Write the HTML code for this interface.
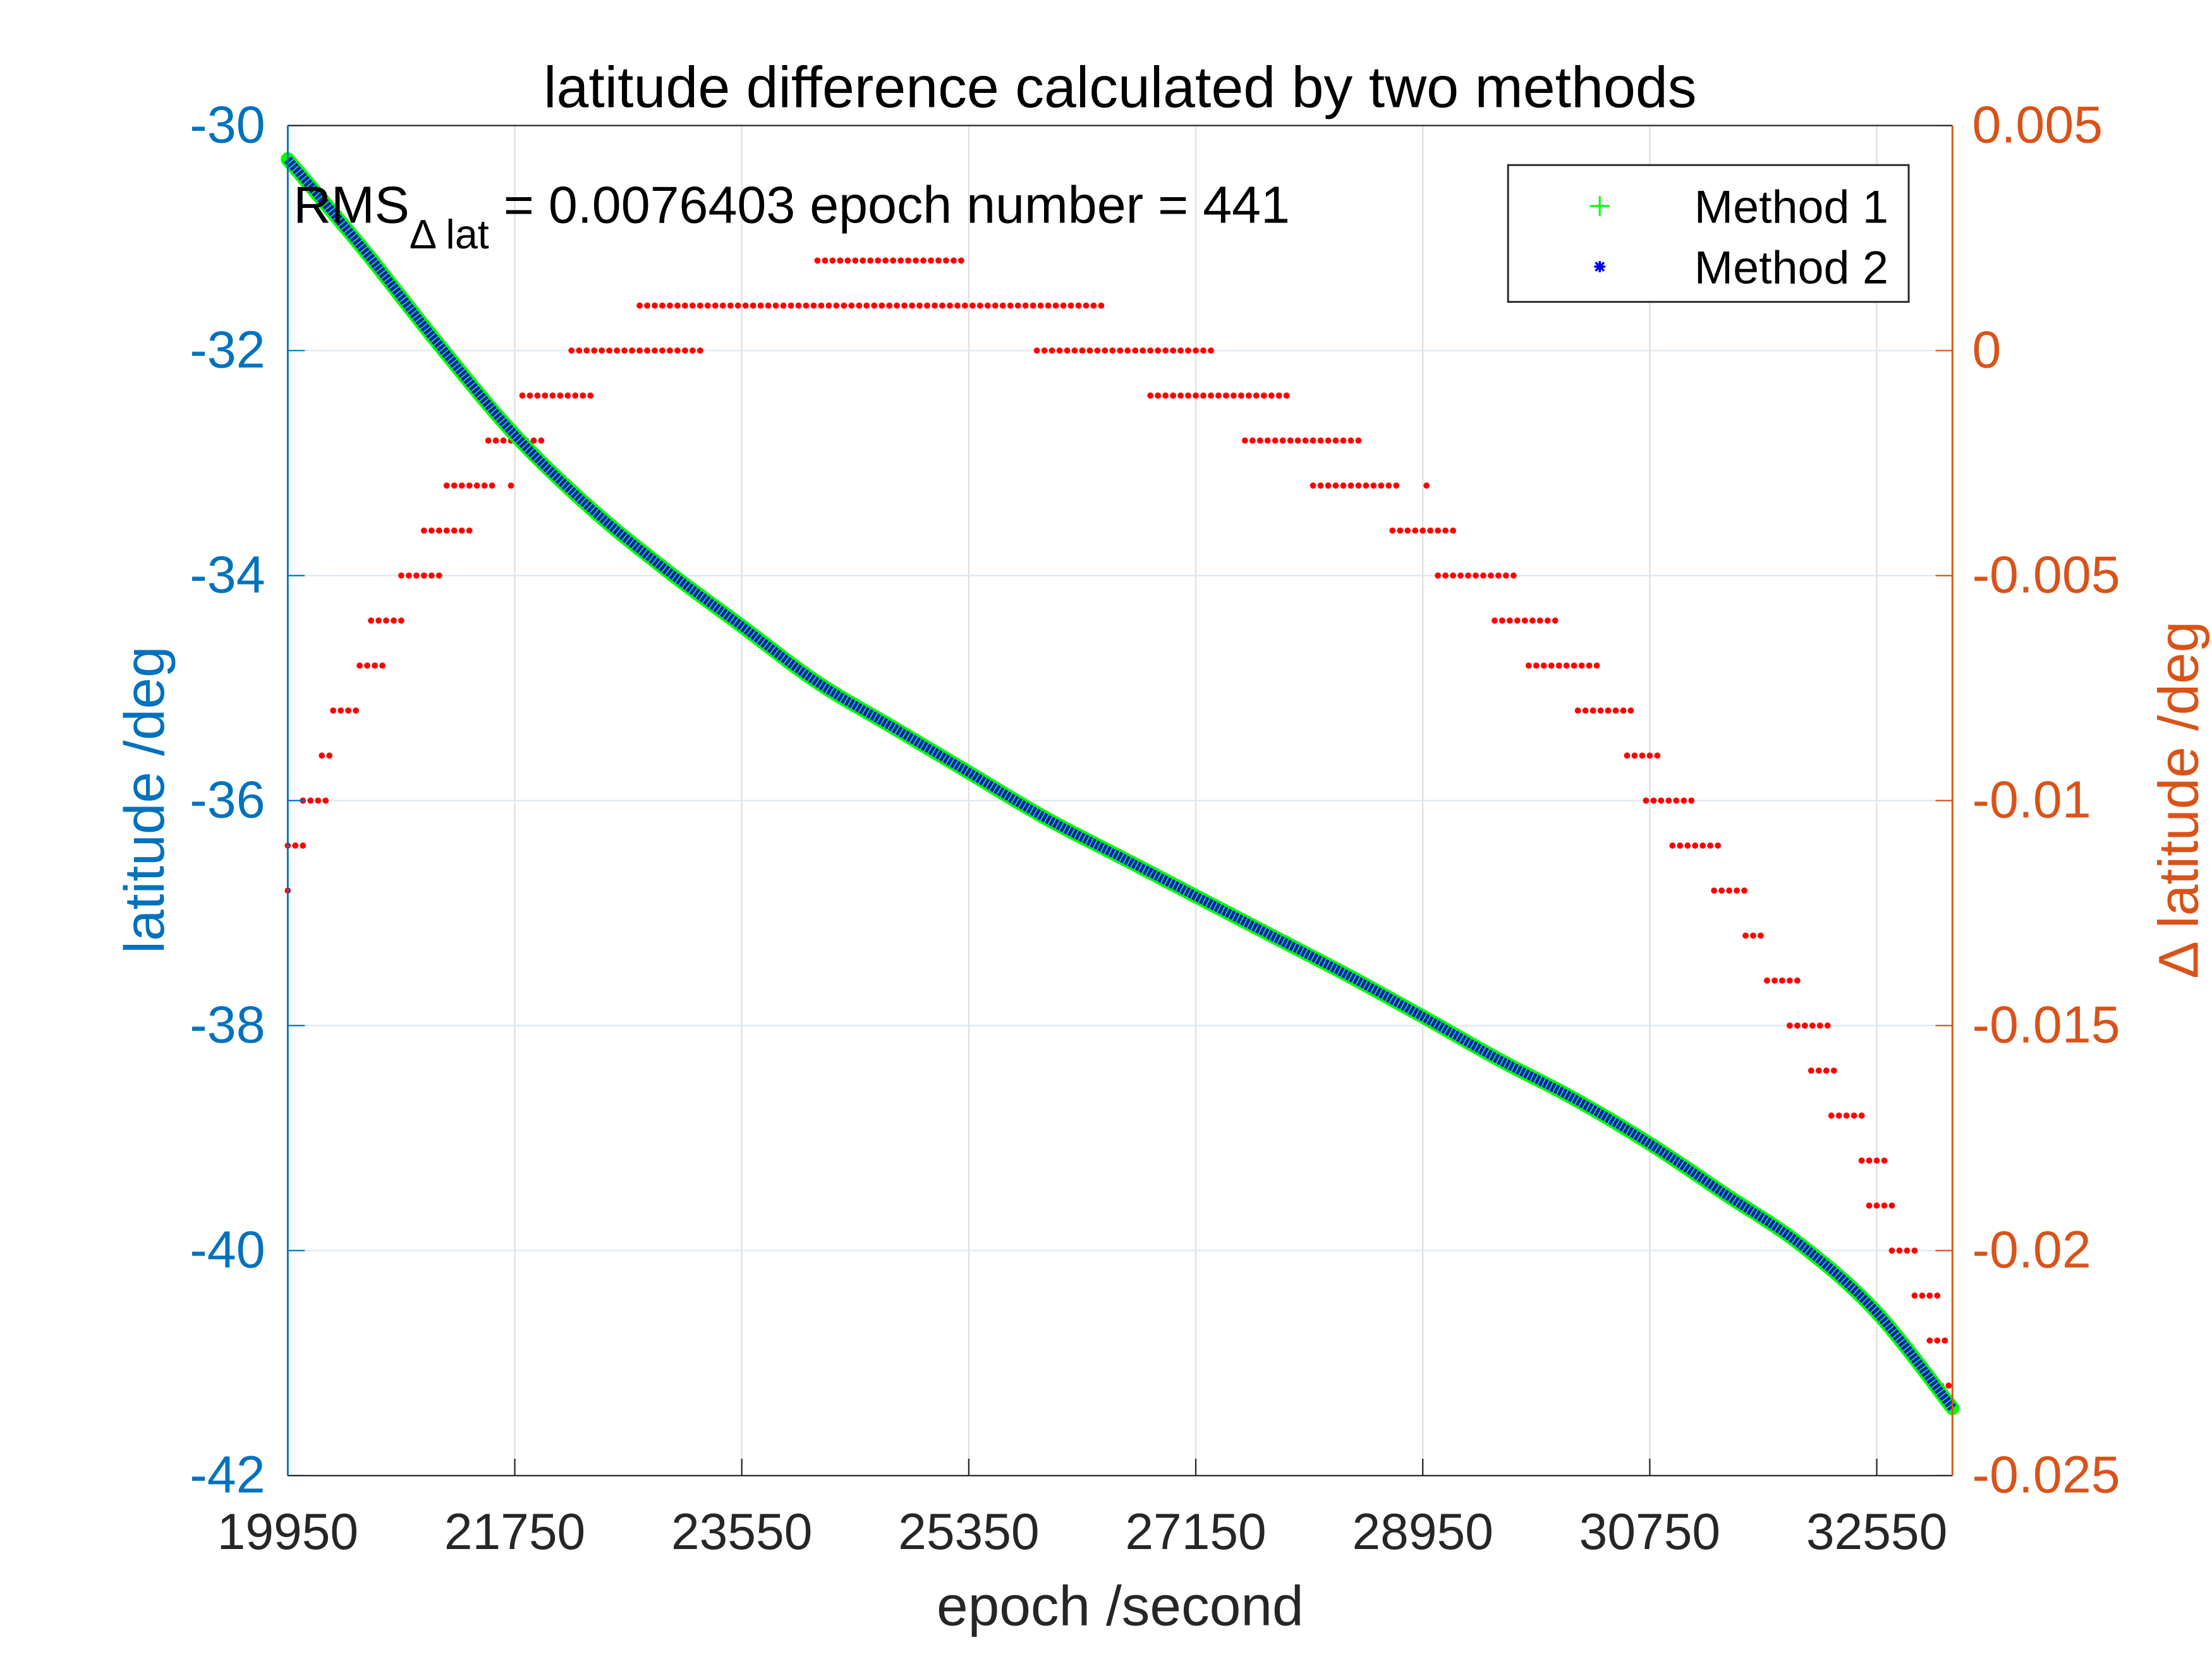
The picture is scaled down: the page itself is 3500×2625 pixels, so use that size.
<!DOCTYPE html>
<html><head><meta charset="utf-8"><style>
html,body{margin:0;padding:0;background:#fff;}
svg{display:block;}
text{font-family:"Liberation Sans",Arial,sans-serif;}
</style></head><body>
<svg id="chart" width="3500" height="2625" viewBox="0 0 1568 1176" xmlns="http://www.w3.org/2000/svg">
<rect width="1568" height="1176" fill="#fff"/>
<g id="grid"></g>
<g id="series"></g>
<g id="axes"></g>
<text x="794" y="76" font-size="41" text-anchor="middle">latitude difference calculated by two methods</text>
<text x="794" y="1152" font-size="40" text-anchor="middle" fill="#262626">epoch /second</text>
<text transform="translate(116,567) rotate(-90)" font-size="40" text-anchor="middle" fill="#0072BD">latitude /deg</text>
<text transform="translate(1558,567) rotate(-90)" font-size="40" text-anchor="middle" fill="#D95319">Δ latitude /deg</text>
<text x="208" y="158" font-size="37">RMS<tspan font-size="29" dy="18">Δ lat</tspan><tspan dy="-18"> = 0.0076403 epoch number = 441</tspan></text>
<g>
<rect x="1069" y="117" width="284" height="97" fill="#fff" stroke="#262626" stroke-width="1.3"/>
<g>
<path d="M1127 146h14M1134 139v14" stroke="#00ff00" stroke-width="1.4"/>
<text x="1201" y="158" font-size="33">Method 1</text></g>
<g>
<path d="M1130 189h8M1134 185v8M1131 186l6 6M1137 186l-6 6" stroke="#0000ff" stroke-width="1.6"/>
<text x="1201" y="201" font-size="33">Method 2</text></g>
</g>
</svg>
<script>
const xTicks=[19950,21750,23550,25350,27150,28950,30750,32550];
const yLeftTicks=[-30,-32,-34,-36,-38,-40,-42];
const yRightTicks=[0.005,0,-0.005,-0.01,-0.015,-0.02,-0.025];
const yRightLabels=["0.005","0","-0.005","-0.01","-0.015","-0.02","-0.025"];
const latEpochs=[19950,20550,21150,21750,22350,22950,23550,24150,24750,25350,25950,26550,27150,27750,28350,28950,29550,30150,30750,31350,31950,32550,33150];
const latValues=[-30.3,-31.1,-31.95,-32.75,-33.4,-33.95,-34.45,-34.95,-35.35,-35.75,-36.15,-36.5,-36.85,-37.2,-37.55,-37.92,-38.3,-38.65,-39.05,-39.5,-39.95,-40.55,-41.4];
const diffLevels=[-0.012,-0.011,-0.010,-0.009,-0.008,-0.007,-0.006,-0.005,-0.004,-0.003,-0.003,-0.002,-0.001,0,0.001,0.002,0,-0.001,-0.002,-0.003,-0.003,-0.004,-0.005,-0.006,-0.007,-0.008,-0.009,-0.010,-0.011,-0.012,-0.013,-0.014,-0.015,-0.016,-0.017,-0.018,-0.019,-0.020,-0.021,-0.022,-0.023];
const diffStarts=[19950,19950,20070,20220,20310,20520,20610,20850,21030,21210,21720,21540,21810,22200,22740,24150,25890,26790,27540,28080,28980,28710,29070,29520,29790,30180,30570,30720,30930,31260,31510,31680,31860,32030,32190,32430,32490,32670,32850,32970,33060];
const diffEnds=[19950,20070,20250,20330,20520,20700,20880,21180,21390,21570,21750,21960,22350,23250,26400,25290,27270,27870,28470,28740,28980,29220,29670,30000,30330,30600,30810,31080,31320,31530,31680,31950,32160,32220,32460,32610,32700,32880,33030,33090,33150];

(function(){
const L=204,R=1384,T=89,B=1046,X0=19950,X1=33150;
const sx=v=>L+(v-X0)/(X1-X0)*(R-L);
const syL=v=>T+(-30-v)/12*(B-T);
const syR=v=>T+(0.005-v)/0.03*(B-T);
const NS="http://www.w3.org/2000/svg";
function mk(tag,attrs,parent){const e=document.createElementNS(NS,tag);for(const k in attrs)e.setAttribute(k,attrs[k]);parent.appendChild(e);return e;}
const grid=document.getElementById('grid'),axes=document.getElementById('axes'),series=document.getElementById('series');

xTicks.forEach(t=>{const x=sx(t);
 if(t!==X0){const g=mk('line',{x1:x,x2:x,y1:T,y2:B,stroke:'#dfdfdf','stroke-width':1},grid);
 
 }
 const tk=mk('line',{x1:x,x2:x,y1:B,y2:B-12,stroke:'#262626','stroke-width':1},axes);
 
 
 const tx=mk('text',{x:x,y:B+52,'font-size':36,'text-anchor':'middle',fill:'#262626'},axes);
 tx.textContent=t;
 
 
});
yLeftTicks.forEach(t=>{const y=syL(t);
 if(t!==-30&&t!==-42){const g=mk('line',{x1:L,x2:R,y1:y,y2:y,stroke:'#dfe8ef','stroke-width':1},grid);
 
 }
 const tk=mk('line',{x1:L,x2:L+12,y1:y,y2:y,stroke:'#0072BD','stroke-width':1},axes);
 
 
 const tx=mk('text',{x:L-16,y:y+12,'font-size':37,'text-anchor':'end',fill:'#0072BD'},axes);
 tx.textContent=t;
 
 
});
yRightTicks.forEach((t,i)=>{const y=syR(t);
 const tk=mk('line',{x1:R,x2:R-12,y1:y,y2:y,stroke:'#D95319','stroke-width':1},axes);
 
 
 const tx=mk('text',{x:R+14,y:y+12,'font-size':37,fill:'#D95319'},axes);
 tx.textContent=yRightLabels[i];
 
 
});
const topLine=mk('line',{x1:L,x2:R,y1:T,y2:T,stroke:'#262626','stroke-width':1},axes);


const botLine=mk('line',{x1:L,x2:R,y1:B,y2:B,stroke:'#262626','stroke-width':1},axes);


const la=mk('line',{x1:L,x2:L,y1:T,y2:B,stroke:'#0072BD','stroke-width':1.3},axes);


const ra=mk('line',{x1:R,x2:R,y1:T,y2:B,stroke:'#D95319','stroke-width':1.3},axes);



for(let i=0;i<diffLevels.length;i++){
 for(let e=diffStarts[i];e<=diffEnds[i];e+=60){
  const c=mk('circle',{cx:sx(e),cy:syR(diffLevels[i]),r:2.2,fill:'#ff0000'},series);
  
  
 }
}
// smooth curve through data (Catmull-Rom)
const P=latEpochs.map((e,i)=>[sx(e),syL(latValues[i])]);
let d=`M${P[0][0]} ${P[0][1]}`;
for(let i=0;i<P.length-1;i++){
 const p0=P[Math.max(0,i-1)],p1=P[i],p2=P[i+1],p3=P[Math.min(P.length-1,i+2)];
 const c1=[p1[0]+(p2[0]-p0[0])/6,p1[1]+(p2[1]-p0[1])/6];
 const c2=[p2[0]-(p3[0]-p1[0])/6,p2[1]-(p3[1]-p1[1])/6];
 d+=` C${c1[0]} ${c1[1]} ${c2[0]} ${c2[1]} ${p2[0]} ${p2[1]}`;
}
const g1=mk('path',{d:d,fill:'none',stroke:'#00ff00','stroke-width':10,'stroke-linecap':'round'},series);


const g2=mk('path',{d:d,fill:'none',stroke:'#1414d8','stroke-width':6.5,'stroke-dasharray':'2.2 0.8'},series);


})();
</script>
</body></html>
